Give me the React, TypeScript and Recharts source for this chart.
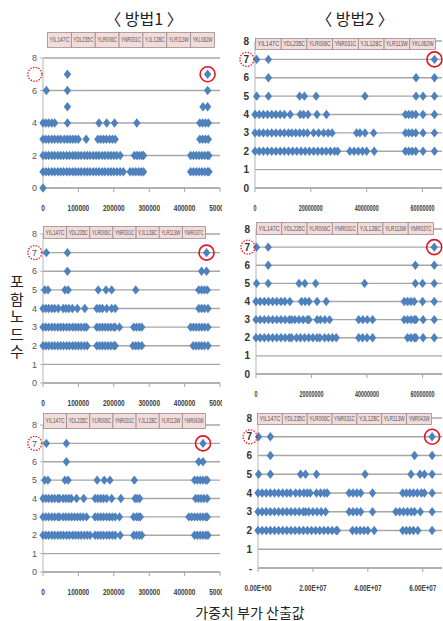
import { CartesianGrid, ReferenceDot, Scatter, ScatterChart, XAxis, YAxis } from 'recharts'

const BLUE = '#4f81bd'
const RED = '#e3151f'

// 방법1 panels: x in thousands, 방법2 panels: x in millions
const m1Ticks = [0, 100, 200, 300, 400, 500]
const m1Labels = ['0', '100000', '200000', '300000', '400000', '500000']
const m2Ticks = [0, 20, 40, 60]
const m2Labels = ['0', '20000000', '40000000', '60000000']
const m2SciLabels = ['0.00E+00', '2.00E+07', '4.00E+07', '6.00E+07']
const yTicksHalf = [0, 2, 4, 6, 8]
const yTicksAll = [0, 1, 2, 3, 4, 5, 6, 7, 8]

const genesA = ['YIL147C', 'YDL235C', 'YLR006C', 'YNR031C', 'YJL128C', 'YLR113W', 'YKL062W']
const genesB = ['YIL147C', 'YDL235C', 'YLR006C', 'YNR031C', 'YJL128C', 'YLR113W', 'YMR037C']
const genesC = ['YIL147C', 'YDL235C', 'YLR006C', 'YNR031C', 'YJL128C', 'YLR113W', 'YMR043W']

// panel 1 (방법1, top)
const p1y0 = [0]
const p1y1 = [0, 8, 16, 25, 33, 42, 50, 58, 67, 75, 84, 92, 100, 108, 117, 125, 133, 142, 150, 158, 167, 175, 184, 192, 200, 209, 218, 227, 246, 254, 262, 270, 277, 284, 417, 425, 433, 441, 449, 457, 465, 469]
const p1y2 = [0, 8, 16, 25, 33, 42, 50, 58, 67, 75, 84, 92, 100, 108, 117, 125, 133, 142, 150, 158, 167, 175, 184, 192, 200, 208, 218, 258, 265, 272, 279, 284, 417, 425, 433, 441, 449, 457, 465, 469]
const p1y3 = [0, 8, 16, 25, 33, 42, 50, 60, 68, 76, 84, 92, 100, 122, 155, 163, 171, 179, 188, 196, 204, 443, 451, 459, 467]
const p1y4 = [0, 8, 16, 25, 33, 69, 158, 180, 202, 265, 443, 451, 459, 467]
const p1y5 = [69, 452, 465]
const p1y6 = [9.5, 69, 465]
const p1y7 = [69, 465]

// panel 2 (방법2, top)
const p2y2 = [0, 1.5, 3, 4.5, 6, 7.5, 9, 10.5, 12, 13.5, 15, 16.5, 18, 19.5, 21, 22.5, 24, 25.5, 27, 28.5, 29.6, 34, 35.5, 37, 38.5, 40, 42.7, 53.9, 55.1, 56.3, 57.6, 60.2, 64.3]
const p2y3 = [0, 1.5, 3, 4.5, 6, 7.5, 9, 10.5, 12, 13.2, 14.6, 16, 17.4, 18.8, 21, 22.8, 24.6, 26.2, 27.6, 36.4, 37.6, 39.4, 42.5, 53.9, 55.1, 56.3, 57.6, 60.2, 64.3]
const p2y4 = [0, 1.5, 3, 4.5, 6, 7.5, 9, 10.5, 12.6, 16.2, 17.4, 19, 22.2, 25.6, 53.9, 55.1, 56.3, 57.6, 60.2, 64.3]
const p2y5 = [0.6, 4.8, 16, 17.7, 21.9, 39.4, 57.7, 60.2, 64.3]
const p2y6 = [4.8, 57.7, 64.3]
const p2y7 = [0.6, 4.8, 64.3]

// panel 3 (방법1, middle)
const p3y2 = [0, 8, 16, 25, 33, 42, 50, 58, 67, 75, 84, 92, 100, 108, 117, 125, 152, 160, 168, 176, 184, 192, 200, 204, 254, 262, 270, 279, 424, 432, 440, 448, 456, 466]
const p3y3 = [0, 8, 16, 25, 33, 42, 50, 58, 67, 75, 84, 92, 100, 108, 117, 123, 152, 160, 168, 176, 184, 192, 200, 204, 216, 256, 264, 272, 279, 417, 425, 433, 441, 449, 457, 466]
const p3y4 = [0, 8, 16, 25, 33, 43, 57, 65, 73, 83, 97, 118, 152, 160, 168, 180, 194, 204, 440, 448, 456, 466]
const p3y5 = [5, 14, 62, 71, 156, 178, 194, 262, 440, 448, 456, 464]
const p3y6 = [69, 448, 462]
const p3y7 = [9.5, 69, 462]

// panel 4 (방법2, middle)
const p4y2 = [0, 1.5, 3, 4.5, 6, 7.5, 9, 10.5, 12, 12.8, 14.6, 16, 17.5, 19, 20.5, 22, 23, 24.7, 26.1, 27.5, 28.9, 37, 38.4, 40, 42, 54.6, 55.8, 57, 57.6, 60.2, 64.2]
const p4y3 = [0, 1.5, 3, 4.5, 6, 7.5, 9, 10.5, 12, 12.8, 14, 15.5, 17, 18.5, 19.1, 22, 23.2, 24.8, 26.5, 37, 38.5, 40.1, 42, 53.4, 54.6, 55.8, 57, 57.6, 60.2, 64.2]
const p4y4 = [0, 1.5, 3, 4.5, 6, 7.5, 9, 10.4, 12.2, 16.4, 17.7, 19.1, 22, 25.3, 53.4, 54.6, 55.8, 57, 60, 64.2]
const p4y5 = [0.2, 4.4, 15.5, 17.6, 21.5, 39.1, 57.4, 60, 64.2]
const p4y6 = [4.4, 57.4, 64.2]
const p4y7 = [0.2, 4.4, 64.2]

// panel 5 (방법1, bottom)
const p5y2 = [0, 8, 16, 25, 33, 42, 50, 58, 67, 75, 84, 92, 100, 108, 117, 125, 133, 147, 155, 163, 171, 180, 188, 196, 204, 218, 256, 264, 272, 279, 428, 436, 444, 452, 460, 466]
const p5y3 = [0, 8, 16, 25, 33, 42, 47, 57, 65, 73, 81, 89, 97, 105, 113, 123, 147, 155, 163, 171, 180, 188, 196, 204, 216, 256, 264, 270, 275, 412, 420, 428, 436, 444, 452, 460, 464]
const p5y4 = [0, 8, 16, 25, 33, 42, 47, 57, 65, 73, 80, 95, 115, 147, 155, 163, 171, 180, 194, 220, 260, 266, 273, 431, 439, 447, 455, 464]
const p5y5 = [5, 14, 62, 71, 153, 173, 189, 258, 428, 436, 444, 452, 460, 464]
const p5y6 = [66, 440, 452]
const p5y7 = [9.5, 66, 452]

// panel 6 (방법2, bottom)
const p6y2 = [0, 1.5, 3, 4.5, 6, 7.5, 9, 10.5, 12, 13.5, 15, 16.5, 18, 19.5, 21, 22.5, 24, 25.5, 27, 28.5, 28.9, 34.4, 35.8, 37.2, 38.6, 40, 42.3, 52.7, 54, 55.3, 56.6, 58.2, 63.4]
const p6y3 = [0, 1.5, 3, 4.5, 6, 7.5, 9, 10.5, 12, 13.5, 15, 16.5, 17.3, 18.5, 20, 21.5, 23, 24.6, 33.2, 34.6, 36, 37.4, 41.7, 50.2, 51.6, 53, 54.4, 55.8, 57, 59.1, 63.4]
const p6y4 = [0, 1.5, 3, 4.5, 6, 7.5, 9, 10.5, 11.8, 13.7, 15.2, 16.7, 17.9, 19, 21.3, 22.8, 24.2, 25.2, 33.2, 34.6, 36, 37.4, 41.7, 52.7, 54, 55.3, 56.6, 58, 59.5, 60.6, 63.4]
const p6y5 = [0.2, 4.5, 15.5, 17.3, 21.3, 39, 55.7, 59, 60.6, 63.4]
const p6y6 = [4.5, 57, 63.4]
const p6y7 = [0.2, 4.5, 63.4]

type Row = { y: number; xs: number[] }
type Box = { x: number; y: number; w: number; h: number }
type PanelProps = {
  left: number
  top: number
  plotW: number
  plotH: number
  xMax: number
  xTicks: number[]
  xLabels: string[]
  charW: number
  yTicks: number[]
  zeroDash?: boolean
  boldY?: boolean
  rows: Row[]
  target: number
  ringX: number
  genes: string[]
  head: Box
}

function Diamond(props: any) {
  const { cx, cy } = props
  if (cx == null || cy == null) return null
  return <path d={`M${cx},${cy - 4.7}L${cx + 3.7},${cy}L${cx},${cy + 4.7}L${cx - 3.7},${cy}Z`} fill={BLUE} />
}

function Panel(p: PanelProps) {
  const data = p.rows.flatMap((r) => r.xs.map((x) => ({ x, y: r.y })))
  const W = 40 + p.plotW + 2
  const H = 10 + p.plotH + 30
  const cw = p.head.w / p.genes.length

  const xTick = (t: any) => {
    const s = p.xLabels[p.xTicks.indexOf(t.payload.value)] ?? ''
    return (
      <text x={t.x} y={t.y} dy="0.35em" textAnchor="middle" fontSize={9} fontWeight="bold"
        fontFamily="Liberation Sans, Arial, sans-serif" fill="#404040"
        textLength={s.length * p.charW} lengthAdjust="spacingAndGlyphs">
        {s}
      </text>
    )
  }
  const yTick = (t: any) => {
    const v = t.payload.value
    const s = p.zeroDash && v === 0 ? '-' : String(v)
    return (
      <text x={t.x} y={t.y} dy="0.35em" textAnchor="end" fontSize={p.boldY ? 10 : 9}
        fontWeight={p.boldY ? 'bold' : 'normal'} fontFamily="Liberation Sans, Arial, sans-serif"
        fill={p.boldY ? '#333' : '#555'}>
        {s}
      </text>
    )
  }

  return (
    <>
      <div style={{ position: 'absolute', left: p.left - 40, top: p.top - 10 }}>
        <ScatterChart width={W} height={H} margin={{ top: 10, right: 2, bottom: 0, left: 20 }}>
          <CartesianGrid vertical={false} stroke="#a6a6a6" strokeWidth={1.3} />
          <XAxis type="number" dataKey="x" domain={[0, p.xMax]} ticks={p.xTicks} interval={0} height={30}
            tickSize={4} tickMargin={16} stroke="#a6a6a6" tick={xTick} />
          <YAxis type="number" dataKey="y" domain={[0, 8]} ticks={p.yTicks} interval={0} width={20}
            tickSize={p.boldY ? 0 : 3} tickMargin={p.boldY ? 6 : 3} stroke="#b5b5b5" tick={yTick} />
          <Scatter data={data} shape={(s: any) => <Diamond {...s} />} isAnimationActive={false} />
          <ReferenceDot x={p.target} y={7} r={7.5} fill="none" stroke={RED} strokeWidth={1.6} ifOverflow="visible" />
          <ReferenceDot x={p.ringX} y={7} r={7} fill="none" stroke={RED} strokeWidth={1.3}
            strokeDasharray="1.4 1.4" ifOverflow="visible" />
        </ScatterChart>
      </div>
      <svg style={{ position: 'absolute', left: p.head.x, top: p.head.y }} width={p.head.w + 1} height={p.head.h}>
        {p.genes.map((g, i) => (
          <g key={g + i}>
            <rect x={i * cw + 0.5} y={0.5} width={cw} height={p.head.h - 1} fill="#f2dcdb" stroke="#a08a8a" strokeWidth={0.8} />
            <text x={i * cw + cw / 2 + 0.5} y={p.head.h / 2} dy="0.35em" textAnchor="middle" fontSize={6.5}
              fontFamily="Liberation Sans, Arial, sans-serif" fill="#555"
              textLength={cw - 4} lengthAdjust="spacingAndGlyphs">
              {g}
            </text>
          </g>
        ))}
      </svg>
    </>
  )
}

const rows = (ys: number[][], from: number): Row[] => ys.map((xs, i) => ({ y: from + i, xs }))

export default function App() {
  const kfont = '"Noto Sans CJK KR", "Noto Sans", sans-serif'
  return (
    <div style={{ position: 'absolute', left: 0, top: 0, width: 443, height: 621, background: '#fff', overflow: 'hidden' }}>
      <div style={{ position: 'absolute', left: 94, top: 6, width: 100, textAlign: 'center', fontFamily: kfont, fontSize: 16, color: '#222', lineHeight: '24px' }}>
        〈 방법1 〉
      </div>
      <div style={{ position: 'absolute', left: 305, top: 6, width: 100, textAlign: 'center', fontFamily: kfont, fontSize: 16, color: '#222', lineHeight: '24px' }}>
        〈 방법2 〉
      </div>

      <Panel left={43} top={58} plotW={177} plotH={130} xMax={500} xTicks={m1Ticks} xLabels={m1Labels} charW={3.6}
        yTicks={yTicksHalf} rows={rows([p1y0, p1y1, p1y2, p1y3, p1y4, p1y5, p1y6, p1y7], 0)}
        target={465} ringX={-23} genes={genesA} head={{ x: 47, y: 32, w: 167, h: 16 }} />
      <Panel left={255} top={41} plotW={187} plotH={147} xMax={67} xTicks={m2Ticks} xLabels={m2Labels} charW={3.0}
        yTicks={yTicksAll} boldY rows={rows([p2y2, p2y3, p2y4, p2y5, p2y6, p2y7], 2)}
        target={64.3} ringX={-2.9} genes={genesA} head={{ x: 255, y: 38, w: 180, h: 12 }} />

      <Panel left={43} top={234} plotW={177} plotH={149} xMax={500} xTicks={m1Ticks} xLabels={m1Labels} charW={3.6}
        yTicks={yTicksAll} rows={rows([p3y2, p3y3, p3y4, p3y5, p3y6, p3y7], 2)}
        target={462} ringX={-23} genes={genesB} head={{ x: 43, y: 226, w: 162, h: 13 }} />
      <Panel left={256} top={229} plotW={186} plotH={145} xMax={67} xTicks={m2Ticks} xLabels={m2Labels} charW={3.0}
        yTicks={yTicksAll} boldY rows={rows([p4y2, p4y3, p4y4, p4y5, p4y6, p4y7], 2)}
        target={64.2} ringX={-2.9} genes={genesB} head={{ x: 256, y: 222, w: 177, h: 13 }} />

      <Panel left={43} top={425} plotW={177} plotH={147} xMax={500} xTicks={m1Ticks} xLabels={m1Labels} charW={3.6}
        yTicks={yTicksAll} rows={rows([p5y2, p5y3, p5y4, p5y5, p5y6, p5y7], 2)}
        target={452} ringX={-23} genes={genesC} head={{ x: 43, y: 413, w: 162, h: 16 }} />
      <Panel left={258} top={418} plotW={184} plotH={150} xMax={67} xTicks={m2Ticks} xLabels={m2SciLabels} charW={3.4}
        yTicks={yTicksAll} boldY zeroDash rows={rows([p6y2, p6y3, p6y4, p6y5, p6y6, p6y7], 2)}
        target={63.4} ringX={-2.9} genes={genesC} head={{ x: 257, y: 413, w: 174, h: 12 }} />

      <div style={{ position: 'absolute', left: 8, top: 272, width: 18, fontFamily: kfont, fontSize: 15, lineHeight: '17.5px', color: '#222', textAlign: 'center' }}>
        {'포함노드수'.split('').map((c, i) => (
          <div key={i}>{c}</div>
        ))}
      </div>
      <div style={{ position: 'absolute', left: 150, top: 602, width: 200, textAlign: 'center', fontFamily: kfont, fontSize: 14, color: '#222', lineHeight: '20px' }}>
        가중치 부가 산출값
      </div>
    </div>
  )
}
